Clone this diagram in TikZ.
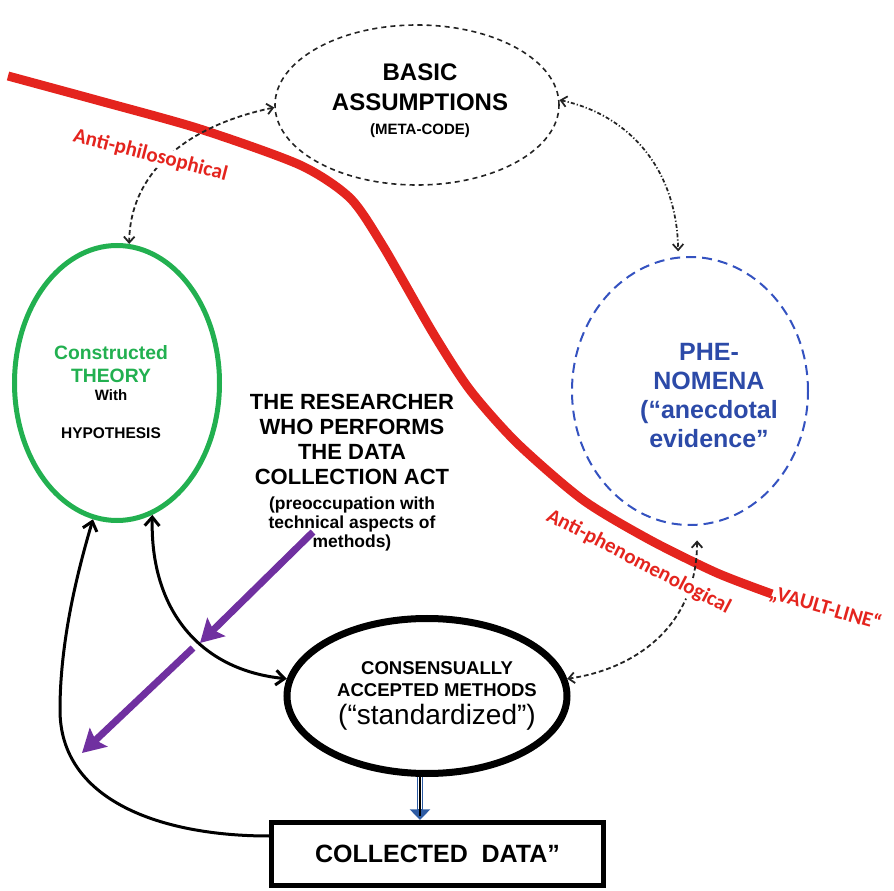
\documentclass[tikz,border=0pt]{standalone}
\usepackage{fontspec}
\setmainfont{Liberation Sans}
\newfontfamily\calfont{Carlito}
\usetikzlibrary{arrows.meta,shapes.geometric}

\definecolor{vaultred}{RGB}{228,36,30}
\definecolor{theorygreen}{RGB}{34,176,80}
\definecolor{phenblue}{RGB}{52,82,192}
\definecolor{phentext}{RGB}{44,74,168}
\definecolor{actpurple}{RGB}{112,48,160}
\definecolor{flowblue}{RGB}{46,92,164}
\definecolor{linkgray}{RGB}{35,35,35}

\newcommand\fsz[2]{\fontsize{#1}{#2}\selectfont}

\tikzset{
  lightbarb/.tip={Straight Barb[length=4.5pt,width=8pt]},
  heavybarb/.tip={Straight Barb[length=6.5pt,width=11pt]},
  purplehead/.tip={Stealth[length=17pt,width=19pt,inset=3pt]},
  bluehead/.tip={Triangle[length=8pt,width=15pt]},
  oval/.style={ellipse, inner sep=0pt},
  caption/.style={align=center, inner sep=0pt},
  dashlink/.style={draw=linkgray, line width=1.35pt, dash pattern=on 3.6pt off 2.2pt},
  dotlink/.style={draw=linkgray, line width=1.3pt, dash pattern=on 3pt off 1.6pt on 0.9pt off 1.6pt},
  solidlink/.style={draw=black, line width=2.25pt},
  actarrow/.style={draw=actpurple, fill=actpurple, line width=5.25pt, arrows={-purplehead}},
  redlabel/.style={text=vaultred, font=\calfont\bfseries\fsz{15.75pt}{18pt}, inner sep=1pt}
}

\begin{document}
\begin{tikzpicture}[x=0.75pt,y=-0.75pt]
\useasboundingbox (0,0) rectangle (894,891);

% the vault line
\draw[vaultred, line width=6.75pt] plot[smooth, tension=0.45] coordinates {
  (8,76) (100,101) (200,129) (300,165) (350,198) (383,246) (433,333)
  (470,390) (517,443) (583,500) (650,540) (717,573) (772,594)};

% main shapes
\node[oval, draw=linkgray, line width=1.2pt, dash pattern=on 3.8pt off 3pt,
      minimum width=213pt, minimum height=120pt] (basic) at (417,105) {};
\node[oval, draw=theorygreen, line width=3.75pt,
      minimum width=153.75pt, minimum height=206.25pt] (theory) at (117,383) {};
\node[oval, draw=phenblue, line width=1.5pt, dash pattern=on 7.5pt off 4.5pt,
      minimum width=177pt, minimum height=201pt] (phen) at (690,391) {};
\node[oval, draw=black, line width=5.25pt,
      minimum width=210pt, minimum height=116.25pt] (methods) at (427,696) {};
\node[draw=black, line width=3.75pt, minimum width=249pt, minimum height=47.25pt,
      inner sep=0pt, font=\bfseries\fsz{18.75pt}{22pt}] (box) at (437.5,854)
      {COLLECTED\hspace{0.55em}DATA”};

% texts
\node[caption, anchor=north, font=\bfseries\fsz{18pt}{22.5pt}] (basictext) at (420,63)
  {BASIC\\ASSUMPTIONS\\[-4.5pt]{\fsz{11.25pt}{13pt}(META-CODE)}};
\node[caption, anchor=north, text=theorygreen, font=\bfseries\fsz{14.5pt}{17.25pt}] (theorytext) at (111,345)
  {Constructed\\THEORY\\[-3.75pt]{\color{black}\fsz{11.25pt}{13pt}With}\\[11.25pt]{\color{black}\fsz{11.6pt}{13pt}HYPOTHESIS}};
\node[caption, anchor=north, text=phentext, font=\bfseries\fsz{18.75pt}{21.75pt}] (phentext) at (709,343)
  {PHE-\\NOMENA\\(“anecdotal\\evidence”};
\node[caption, anchor=north, font=\bfseries\fsz{16.5pt}{18.75pt}] (researcher) at (352,394)
  {THE RESEARCHER\\WHO PERFORMS\\THE DATA\\COLLECTION ACT};
\node[caption, anchor=north, font=\bfseries\fsz{13.1pt}{14.25pt}] (concern) at (352,497)
  {(preoccupation with\\technical aspects of\\methods)};
\node[caption, anchor=north, font=\bfseries\fsz{13.9pt}{16.5pt}] (methodstext) at (437,661)
  {CONSENSUALLY\\ACCEPTED METHODS\\[4.5pt]{\mdseries\fsz{21pt}{24pt}(“standardized”)}};

% connectors
\draw[dashlink, arrows={lightbarb-lightbarb}]
  (basic.181) .. controls (190,125) and (130,170) .. (theory.85);
\draw[dotlink, arrows={lightbarb-lightbarb}, shorten >=4pt]
  (basic.2) .. controls (630,115) and (677,170) .. (phen.95);
\draw[dashlink, arrows={lightbarb-lightbarb}, shorten <=11pt]
  (phen.273) .. controls (697,630) and (630,670) .. (methods.7);
\draw[solidlink, arrows={heavybarb-heavybarb}]
  (theory.285) .. controls (150,610) and (200,670) .. (methods.173);
\draw[solidlink, arrows={-heavybarb}]
  ([yshift=13.5pt]box.west) .. controls (160,836) and (60,800) .. (60,710)
  .. controls (60,640) and (78,570) .. (theory.260);

% standardized methods yield the collected data
\draw[flowblue, line width=4.5pt, arrows={-bluehead}]
  ([xshift=-5.25pt]methods.south) -- ([xshift=-5.25pt]methods.south |- box.north);
\draw[white, line width=2.4pt, shorten >=8pt]
  ([xshift=-5.25pt]methods.south) -- ([xshift=-5.25pt]methods.south |- box.north);
\draw[black, line width=1pt, shorten >=3pt]
  ([xshift=-5.25pt]methods.south) -- ([xshift=-5.25pt]methods.south |- box.north);

% the researcher's act
\coordinate (actA1) at (313,532);
\coordinate (actA2) at (200,643);
\coordinate (actB1) at (193,648);
\coordinate (actB2) at (82,753);
\draw[actarrow] (actA1) -- (actA2);
\draw[actarrow] (actB1) -- (actB2);

% labels along the vault line
\node[redlabel, fill=white, anchor=base, rotate=-14.5] (antiphil) at (149,161) {Anti-philosophical};
\node[redlabel, fill=white, anchor=base, rotate=-27.4] (antiphen) at (636,567) {Anti-phenomenological};
\node[redlabel, anchor=base west, rotate=-16] (vault) at (767,598) {„VAULT-LINE“};
\end{tikzpicture}
\end{document}
